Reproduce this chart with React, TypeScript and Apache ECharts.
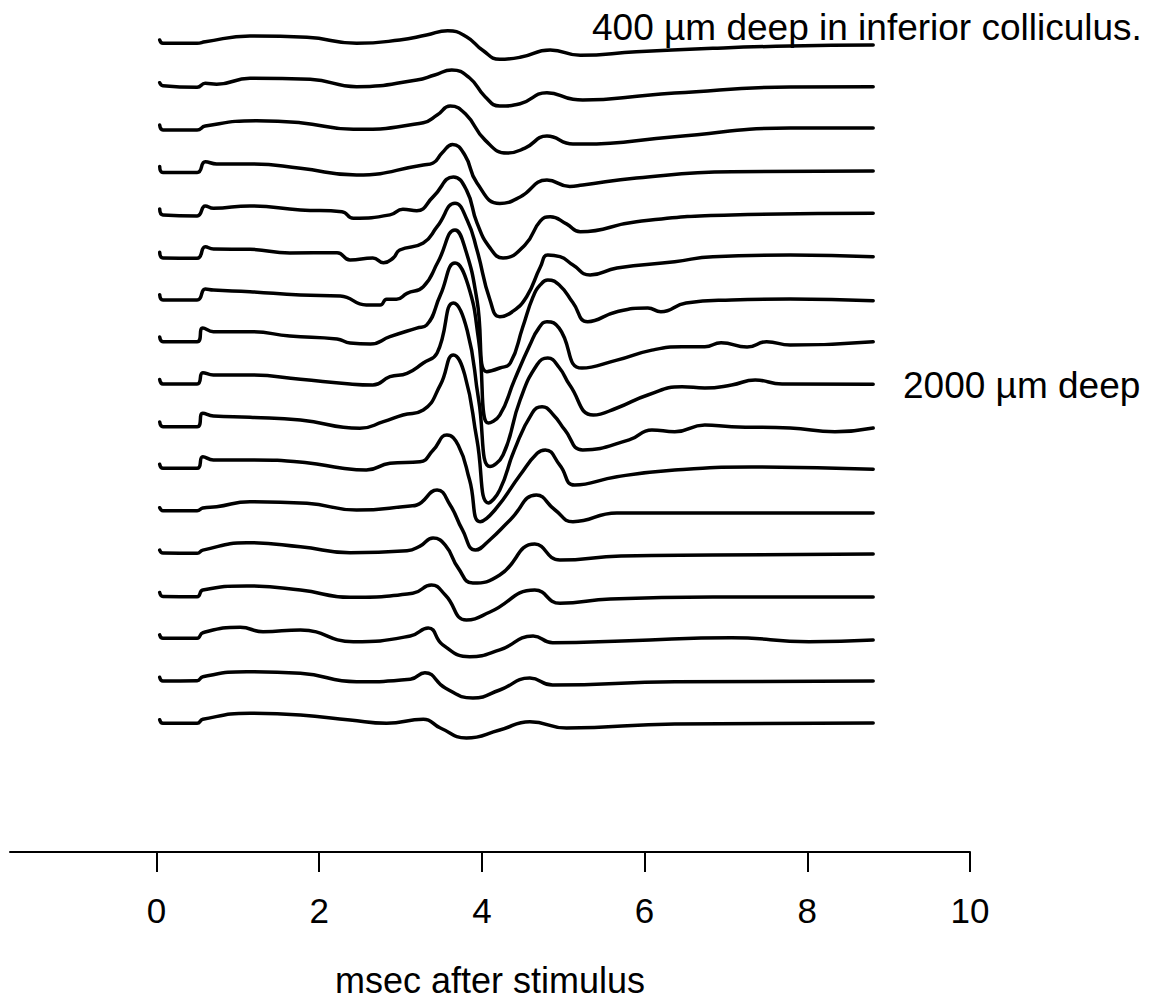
import React, { useEffect, useRef } from "react";
import * as echarts from "echarts";

// Recording depths (µm), one trace each, top to bottom
const depthsUm = [400, 600, 800, 1000, 1200, 1400, 1600, 1800, 2000, 2200, 2400, 2600, 2800, 3000, 3200, 3400, 3600];

// Each trace: [msec after stimulus, amplitude (arbitrary units, up = positive)]
const depth400: [number, number][] = [[0.04,3.3],[0.08,0],[0.5,0],[0.6,1.6],[1.15,7.3],[1.85,6],[2.46,0],[2.99,3.3],[3.32,8.3],[3.58,12.6],[3.81,6.6],[4.01,-7],[4.22,-16],[4.47,-14],[4.84,-6.7],[5.21,-12],[5.9,-8.4],[6.84,-5],[7.79,-2.7],[8.81,-1.7]];
const depth600: [number, number][] = [[0.04,3],[0.08,0],[0.5,-1.6],[0.6,2.4],[0.74,1.5],[1.15,7.4],[1.89,6.4],[2.46,-1],[3.2,5.7],[3.42,10.7],[3.63,15.7],[3.85,7.7],[4.04,-11],[4.22,-20.3],[4.47,-18],[4.8,-7],[5.12,-13.6],[5.24,-14.3],[6.07,-9.3],[6.37,-7.3],[7.79,-1.3],[8.81,-1]];
const depth800: [number, number][] = [[0.04,3],[0.08,-1.9],[0.5,-1.9],[0.6,2.1],[1.23,7.4],[1.77,5.4],[2.42,-1.2],[3.28,5.4],[3.45,13],[3.61,22],[3.8,14],[4.04,-12],[4.31,-25],[4.53,-20],[4.8,-8],[5.12,-16],[5.24,-16],[6.37,-8.6],[7.79,0],[8.81,0]];
const depth1000: [number, number][] = [[0.04,4],[0.08,-2],[0.5,-2],[0.6,8.8],[0.74,6.5],[1.19,6.5],[1.77,2.2],[2.46,-4.5],[3.28,5.5],[3.4,7.5],[3.51,17.5],[3.64,26],[3.79,15.5],[3.94,-12.5],[4.22,-33],[4.47,-26.5],[4.8,-9.5],[5.08,-16],[5.24,-14.5],[5.9,-7.5],[7.07,-1.2],[8.81,-0.5]];
const depth1200: [number, number][] = [[0.04,4],[0.08,-2],[0.5,-3],[0.6,7],[0.7,4.6],[1.15,7],[1.77,3],[2.28,1.2],[2.42,-5.4],[2.87,-2],[3.03,3.6],[3.2,2.2],[3.4,16],[3.65,36],[3.81,23],[3.94,-10],[4.1,-35],[4.26,-45],[4.53,-32],[4.72,-8],[4.84,-3.8],[5.04,-11],[5.21,-18.8],[5.9,-8.8],[7.07,-2],[8.81,-0.4]];
const depth1400: [number, number][] = [[0.04,3],[0.08,-2.7],[0.5,-3],[0.6,8.6],[0.7,6.3],[1.15,6],[1.64,2.3],[2.22,2.6],[2.38,-4.7],[2.66,-2.7],[2.79,-7.4],[2.91,-2.7],[2.99,5.3],[3.28,12.3],[3.45,28.6],[3.67,52],[3.82,35],[3.94,5.3],[4.1,-44.7],[4.22,-61.4],[4.37,-56.7],[4.55,-41.4],[4.72,-11.4],[4.81,0.3],[4.96,-1.4],[5.12,-9.7],[5.33,-19.7],[5.66,-12.7],[6.37,-6.4],[6.84,-1.4],[7.79,0.3],[8.81,-1.4]];
const depth1600: [number, number][] = [[0.04,3],[0.08,-2.3],[0.5,-2.3],[0.6,8.7],[0.7,7.7],[1.15,6],[1.77,2.7],[2.26,1.7],[2.58,-7.3],[2.75,-7.3],[2.83,-1.6],[2.95,-1.6],[3.08,4.4],[3.28,11],[3.46,35.7],[3.67,67.7],[3.8,47.7],[3.94,-2.3],[4.06,-74],[4.22,-70.3],[4.35,-65.3],[4.5,-30],[4.63,1],[4.72,13],[4.81,17.7],[4.96,12],[5.12,-5],[5.3,-24],[5.66,-14],[6.04,-10.3],[6.2,-14],[6.51,-5.3],[7.07,-2.3],[7.79,-1.3],[8.81,-3]];
const depth1800: [number, number][] = [[0.04,3],[0.08,-1.6],[0.5,-1.6],[0.57,12],[0.7,8.4],[1.15,8.4],[1.64,4.1],[2.22,1.1],[2.38,-2.9],[2.63,-3.9],[2.87,3.4],[3.2,12],[3.32,15],[3.49,45],[3.67,77],[3.83,55],[3.96,0],[4.08,-83],[4.22,-75],[4.4,-40],[4.59,-5],[4.7,12],[4.8,18.4],[4.95,12],[5.23,-28],[5.66,-20],[6.09,-10],[6.46,-6.6],[6.74,-6.6],[6.94,-2.6],[7.26,-7],[7.5,-1.6],[7.79,-5],[8.81,-1.6]];
const depth2000: [number, number][] = [[0.04,3],[0.08,-1.5],[0.5,-1.5],[0.57,9.8],[0.7,7.5],[1.15,7.5],[1.77,3.2],[2.38,-1.5],[2.66,-2.5],[2.87,5.8],[3.08,9.2],[3.28,19.5],[3.45,29.5],[3.65,79.5],[3.82,52],[3.96,-17],[4.1,-84],[4.26,-72.5],[4.47,-17.5],[4.68,18],[4.81,24.5],[4.95,15],[5.08,-2.5],[5.37,-32.5],[5.66,-25.5],[6.04,-12.5],[6.46,-4.2],[6.74,-5.5],[7.07,-2.5],[7.36,2.5],[7.69,-1.5],[8.81,-1.8]];
const depth2200: [number, number][] = [[0.04,3],[0.08,-1.8],[0.5,-1.8],[0.57,11.6],[0.7,8.9],[1.15,7.6],[1.77,4.9],[2.5,-3.4],[2.79,3.2],[3.03,9.9],[3.28,14.9],[3.49,40],[3.65,70],[3.79,50],[3.94,-15],[4.08,-78],[4.22,-65],[4.4,-25],[4.62,12],[4.74,18.2],[4.88,10],[5.02,-5],[5.24,-25],[5.81,-15],[6.09,-5],[6.37,-6.8],[6.74,-0.1],[7.07,-1.8],[7.79,-3.1],[8.34,-6.8],[8.81,-3.1]];
const depth2400: [number, number][] = [[0.04,3],[0.08,-1],[0.5,-1],[0.57,10.6],[0.7,7.3],[1.15,7.3],[1.85,4.6],[2.29,-1],[2.58,-2.7],[2.87,4],[3.24,5.6],[3.4,17],[3.57,32.3],[3.71,22],[3.85,-13],[3.98,-54.4],[4.16,-42.7],[4.47,-7.7],[4.68,14],[4.78,17.3],[4.96,2],[5.14,-17.7],[5.66,-9.4],[6.37,-2.7],[7.31,0.3],[8.81,-2]];
const depth2600: [number, number][] = [[0.04,2],[0.08,-1],[0.5,-1],[0.57,1.7],[0.74,3],[1.15,8],[1.85,6.4],[2.46,-0.3],[3.12,3.7],[3.2,4.7],[3.45,19.7],[3.61,4.7],[3.76,-20],[3.92,-40.3],[4.1,-30],[4.35,-10],[4.67,14.7],[4.9,-0.3],[5.12,-12],[5.66,-3.3],[6.84,-3.3],[8.81,-3.3]];
const depth2800: [number, number][] = [[0.04,2],[0.08,-1],[0.5,-1.2],[0.57,2],[1.11,9.4],[1.77,5.4],[2.38,-0.6],[3.08,1.4],[3.24,6],[3.4,14],[3.55,7],[3.71,-16],[3.89,-31],[4.22,-23],[4.65,8],[4.96,-8],[5.71,-4],[6.84,-3],[8.81,-2]];
const depth3000: [number, number][] = [[0.04,2],[0.08,-2],[0.5,-2.2],[0.57,4.5],[1.11,8.5],[1.77,4.5],[2.38,-2.8],[3.15,1.2],[3.38,9.5],[3.55,-0.5],[3.81,-25.5],[4.1,-17.5],[4.65,4.5],[4.96,-8.8],[5.58,-4.5],[6.84,-2.5],[8.81,-2.5]];
const depth3200: [number, number][] = [[0.04,2],[0.08,-1.4],[0.5,-1.4],[0.57,4.2],[1.03,9.6],[1.31,5.2],[1.77,6.9],[2.42,-4.8],[3.12,0.9],[3.34,8.9],[3.52,-8],[3.85,-19.8],[4.22,-13],[4.63,0.9],[4.87,-5.8],[5.81,-3.8],[7.07,-0.8],[8.02,-4.8],[8.81,-3.1]];
const depth3400: [number, number][] = [[0.04,2],[0.08,-1.7],[0.5,-1.4],[0.57,2.6],[1.11,7.6],[1.77,6],[2.46,-2.4],[3.12,0],[3.3,6.6],[3.55,-8.7],[3.89,-18.7],[4.22,-10.7],[4.59,1.3],[4.87,-5.7],[6.37,-2.4],[8.81,-1.7]];
const depth3600: [number, number][] = [[0.04,2],[0.08,-1.6],[0.5,-1.6],[0.57,2.4],[1.15,8.4],[1.77,6.7],[2.38,1.7],[2.83,-1.6],[3.28,2.4],[3.49,-6.3],[3.81,-16.3],[4.22,-8.3],[4.59,0],[5.04,-6.3],[6.37,-2.3],[8.81,-1.3]];

const traces = [depth400, depth600, depth800, depth1000, depth1200, depth1400, depth1600, depth1800, depth2000,
  depth2200, depth2400, depth2600, depth2800, depth3000, depth3200, depth3400, depth3600];

const xTickValues = [0, 2, 4, 6, 8, 10];
const topLabel = "400 µm deep in inferior colliculus.";
const sideLabel = "2000 µm deep";
const xAxisTitle = "msec after stimulus";

// layout of the stack (y-axis units)
const FIRST_OFFSET = 808.7;
const TRACE_SPACING = 42.4;
const FONT = '"Liberation Sans", Arial, Helvetica, sans-serif';

export default function App() {
  const ref = useRef<HTMLDivElement>(null);
  useEffect(() => {
    if (!ref.current) return;
    const chart = echarts.init(ref.current, null, { renderer: "svg" });
    chart.setOption({
      animation: false,
      backgroundColor: "#ffffff",
      grid: { left: 10, right: 193, top: 0, bottom: 147, containLabel: false, outerBoundsMode: "none" },
      xAxis: {
        type: "value",
        min: -1.8,
        max: 10,
        name: xAxisTitle,
        nameLocation: "middle",
        nameGap: 110,
        nameTextStyle: { fontSize: 36, color: "#000", fontFamily: FONT },
        axisLine: { show: true, onZero: false, lineStyle: { color: "#000", width: 2 } },
        axisTick: { show: true, length: 20, customValues: xTickValues, lineStyle: { color: "#000", width: 2 } },
        axisLabel: { customValues: xTickValues, fontSize: 35, margin: 41, color: "#000", fontFamily: FONT },
        splitLine: { show: false },
      },
      yAxis: { type: "value", min: 0, max: 852, show: false },
      series: traces.map((d, i) => ({
        type: "line",
        name: `${depthsUm[i]} µm`,
        data: d.map(([t, a]) => [t, FIRST_OFFSET - i * TRACE_SPACING + a]),
        smooth: 0.5,
        symbol: "none",
        silent: true,
        lineStyle: { color: "#000", width: 3.5, cap: "round", join: "round" },
      })),
      graphic: [
        {
          type: "text",
          x: 592,
          y: 27,
          style: { text: topLabel, fontSize: 37, fontFamily: FONT, fill: "#000", align: "left", verticalAlign: "middle" },
        },
        {
          type: "text",
          x: 903,
          y: 385,
          style: { text: sideLabel, fontSize: 37, fontFamily: FONT, fill: "#000", align: "left", verticalAlign: "middle" },
        },
      ],
    });
    return () => chart.dispose();
  }, []);
  return (
    <div
      ref={ref}
      style={{ position: "fixed", left: 0, top: 0, width: 1163, height: 999, background: "#fff" }}
    />
  );
}
